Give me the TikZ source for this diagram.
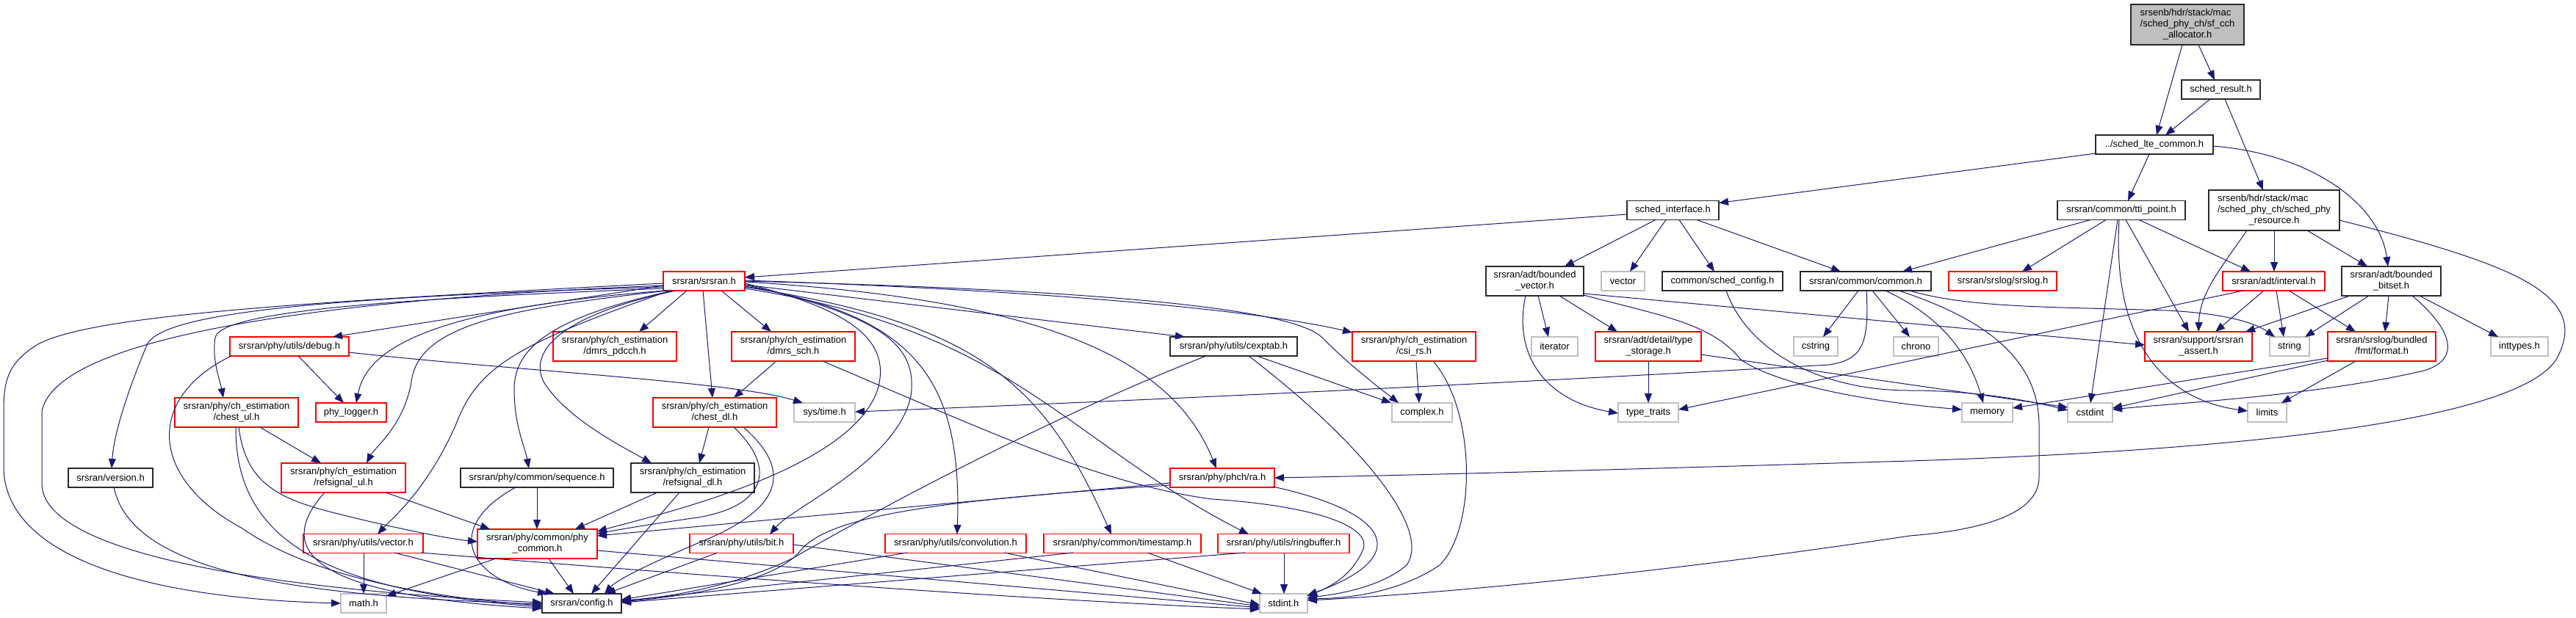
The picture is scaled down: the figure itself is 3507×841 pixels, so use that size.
\documentclass[tikz,border=0pt]{standalone}
\usepackage{fontspec}
\setmainfont{Liberation Sans}
\usetikzlibrary{arrows.meta,calc}
\definecolor{edgec}{HTML}{191970}
\definecolor{boxred}{HTML}{FF0000}
\definecolor{boxgray}{HTML}{BFBFBF}
\definecolor{boxblack}{HTML}{2A2A2A}
\definecolor{rootfill}{HTML}{BFBFBF}
\newcommand{\dfont}{\fontsize{13}{15}\selectfont}
\newcommand{\twolab}[2]{\begin{tabular}{@{}l@{}}#1\\\multicolumn{1}{@{}c@{}}{#2}\end{tabular}}
\newcommand{\threelab}[3]{\begin{tabular}{@{}l@{}}#1\\#2\\\multicolumn{1}{@{}c@{}}{#3}\end{tabular}}
\tikzset{
  nbox/.style={draw, line width=1.15pt, inner sep=0pt, minimum height=26pt, font=\dfont, text=black, fill=white},
  redbox/.style={nbox, draw=boxred},
  blackbox/.style={nbox, draw=boxblack},
  graybox/.style={nbox, draw=boxgray},
  rootbox/.style={nbox, draw=boxblack, fill=rootfill},
  link/.style={draw=edgec, line width=1pt, -{Triangle[length=13pt,width=10pt]}}
}
\begin{document}
\begin{tikzpicture}[x=1pt,y=-1pt]
\useasboundingbox (0,0) rectangle (3507,841);
% ---------- nodes ----------
\node[rootbox, minimum width=154pt, minimum height=55pt] (root) at (2978,33.5) {\threelab{srsenb/hdr/stack/mac}{/sched\_phy\_ch/sf\_cch}{\_allocator.h}};
\node[blackbox, minimum width=107pt] (result) at (3023.5,122) {sched\_result.h};
\node[blackbox, minimum width=160pt] (lte) at (2933,197) {../sched\_lte\_common.h};
\node[blackbox, minimum width=125pt] (iface) at (2277.5,286.5) {sched\_interface.h};
\node[blackbox, minimum width=174pt] (tti) at (2888,286.5) {srsran/common/tti\_point.h};
\node[blackbox, minimum width=178pt, minimum height=55pt] (phyres) at (3096,286.5) {\threelab{srsenb/hdr/stack/mac}{/sched\_phy\_ch/sched\_phy}{\_resource.h}};
\node[redbox, minimum width=111pt] (srsran) at (958.5,383) {srsran/srsran.h};
\node[blackbox, minimum width=133pt, minimum height=40pt] (bvec) at (2089.5,383) {\twolab{srsran/adt/bounded}{\_vector.h}};
\node[graybox, minimum width=59pt] (vec) at (2209.5,383) {vector};
\node[blackbox, minimum width=164pt] (schedcfg) at (2345,383) {common/sched\_config.h};
\node[blackbox, minimum width=178pt] (common) at (2540,383) {srsran/common/common.h};
\node[redbox, minimum width=147pt] (srslog) at (2726.5,383) {srsran/srslog/srslog.h};
\node[redbox, minimum width=139pt] (interval) at (3095.5,383) {srsran/adt/interval.h};
\node[blackbox, minimum width=135pt, minimum height=40pt] (bbitset) at (3255.5,383) {\twolab{srsran/adt/bounded}{\_bitset.h}};
\node[redbox, minimum width=162pt] (debug) at (394,472) {srsran/phy/utils/debug.h};
\node[redbox, minimum width=168pt, minimum height=40pt] (dmrspdcch) at (837,472) {\twolab{srsran/phy/ch\_estimation}{/dmrs\_pdcch.h}};
\node[redbox, minimum width=168pt, minimum height=40pt] (dmrssch) at (1080,472) {\twolab{srsran/phy/ch\_estimation}{/dmrs\_sch.h}};
\node[blackbox, minimum width=173pt] (cexptab) at (1679.5,472) {srsran/phy/utils/cexptab.h};
\node[redbox, minimum width=168pt, minimum height=40pt] (csirs) at (1925,472) {\twolab{srsran/phy/ch\_estimation}{/csi\_rs.h}};
\node[graybox, minimum width=63pt] (iterator) at (2116.5,472) {iterator};
\node[redbox, minimum width=144pt, minimum height=40pt] (tstorage) at (2244,472) {\twolab{srsran/adt/detail/type}{\_storage.h}};
\node[graybox, minimum width=60pt] (cstring) at (2472,472) {cstring};
\node[graybox, minimum width=61pt] (chrono) at (2608.5,472) {chrono};
\node[redbox, minimum width=146pt, minimum height=40pt] (assert) at (2993,472) {\twolab{srsran/support/srsran}{\_assert.h}};
\node[graybox, minimum width=54pt] (string) at (3117,472) {string};
\node[redbox, minimum width=147pt, minimum height=40pt] (format) at (3242.5,472) {\twolab{srsran/srslog/bundled}{/fmt/format.h}};
\node[graybox, minimum width=78pt] (inttypes) at (3430,472) {inttypes.h};
\node[redbox, minimum width=168pt, minimum height=40pt] (chestul) at (322,562) {\twolab{srsran/phy/ch\_estimation}{/chest\_ul.h}};
\node[redbox, minimum width=96pt] (phylogger) at (478,562) {phy\_logger.h};
\node[redbox, minimum width=168pt, minimum height=40pt] (chestdl) at (973,562) {\twolab{srsran/phy/ch\_estimation}{/chest\_dl.h}};
\node[graybox, minimum width=83pt] (systime) at (1122.5,562) {sys/time.h};
\node[graybox, minimum width=82pt] (complex) at (1936,562) {complex.h};
\node[graybox, minimum width=82pt] (ttraits) at (2244,562) {type\_traits};
\node[graybox, minimum width=69pt] (memory) at (2705.5,562) {memory};
\node[graybox, minimum width=61pt] (cstdint) at (2845.5,562) {cstdint};
\node[graybox, minimum width=53pt] (limits) at (3086.5,562) {limits};
\node[blackbox, minimum width=115pt] (version) at (150.5,651) {srsran/version.h};
\node[redbox, minimum width=169pt, minimum height=40pt] (refsigul) at (467.5,651) {\twolab{srsran/phy/ch\_estimation}{/refsignal\_ul.h}};
\node[blackbox, minimum width=208pt] (sequence) at (731,651) {srsran/phy/common/sequence.h};
\node[blackbox, minimum width=168pt, minimum height=40pt] (refsigdl) at (943,651) {\twolab{srsran/phy/ch\_estimation}{/refsignal\_dl.h}};
\node[redbox, minimum width=142pt] (ra) at (1664,651) {srsran/phy/phch/ra.h};
\node[redbox, minimum width=163pt, minimum height=40pt] (phycommon) at (731.5,741) {\twolab{srsran/phy/common/phy}{\_common.h}};
\node[redbox, minimum width=163pt] (vectorh) at (494.5,740.5) {srsran/phy/utils/vector.h};
\node[redbox, minimum width=141pt] (bit) at (1009.5,740.5) {srsran/phy/utils/bit.h};
\node[redbox, minimum width=192pt] (conv) at (1301,740.5) {srsran/phy/utils/convolution.h};
\node[redbox, minimum width=214pt] (tstamp) at (1528,740.5) {srsran/phy/common/timestamp.h};
\node[redbox, minimum width=179pt] (ringbuf) at (1747.5,740.5) {srsran/phy/utils/ringbuffer.h};
\node[graybox, minimum width=62pt] (math) at (495,822) {math.h};
\node[blackbox, minimum width=108pt] (config) at (792,822) {srsran/config.h};
\node[graybox, minimum width=65pt] (stdint) at (1747.5,822) {stdint.h};
% ---------- edges ----------
\draw[link] ($(root)+(-7,27.5)$) -- ($(lte)+(3,-13)$);
\draw[link] ($(root)+(15,27.5)$) -- ($(result)+(-8.5,-13)$);
\draw[link] ($(result)+(-14.5,13)$) -- ($(lte)+(15,-13)$);
\draw[link] ($(result)+(5.5,13)$) -- ($(phyres)+(-15,-27.5)$);
\draw[link] ($(lte)+(-80,12)$) -- ($(iface)+(62.5,-10)$);
\draw[link] ($(lte)+(-7,13)$) -- ($(tti)+(9,-13)$);
\draw[link] ($(lte)+(80,2)$) .. controls (3150,210) and (3240,280) .. ($(bbitset)+(-4.5,-20)$);
\draw[link] ($(iface)+(-62.5,5.5)$) -- ($(srsran)+(55.5,-5)$);
\draw[link] ($(iface)+(-23.5,13)$) -- ($(bvec)+(40.5,-20)$);
\draw[link] ($(iface)+(-9.5,13)$) -- ($(vec)+(9.5,-13)$);
\draw[link] ($(iface)+(8.5,13)$) -- ($(schedcfg)+(-11,-13)$);
\draw[link] ($(iface)+(32.5,13)$) -- ($(common)+(-34,-13)$);
\draw[link] ($(tti)+(-42,13)$) -- ($(common)+(50,-13)$);
\draw[link] ($(tti)+(-21,13)$) -- ($(srslog)+(26.5,-13)$);
\draw[link] ($(tti)+(-5,13)$) -- ($(cstdint)+(0.5,-13)$);
\draw[link] ($(tti)+(-3,13)$) .. controls (2875,470) and (2950,545) .. ($(limits)+(-26.5,-2)$);
\draw[link] ($(tti)+(6,13)$) -- ($(assert)+(-13,-20)$);
\draw[link] ($(tti)+(24,13)$) -- ($(interval)+(-31.5,-13)$);
\draw[link] ($(phyres)+(0,27.5)$) -- ($(interval)+(0.5,-13)$);
\draw[link] ($(phyres)+(45,27.5)$) -- ($(bbitset)+(-32.5,-20)$);
\draw[link] ($(phyres)+(-37,27.5)$) .. controls (3020,370) and (2995,400) .. ($(assert)+(0,-20)$);
\draw[link] ($(phyres)+(89,13.5)$) .. controls (3420,360) and (3530,400) .. (3480,490) .. controls (3420,580) and (3000,615) .. (2600,628) .. controls (2200,640) and (1900,648) .. ($(ra)+(71,0)$);
% srsran.h
\draw[link] ($(srsran)+(-55.5,3)$) .. controls (400,412) and (120,430) .. (50,470) .. controls (10,495) and (5,520) .. (5,560) -- (5,640) .. controls (10,760) and (200,815) .. ($(math)+(-31,0)$);
\draw[link] ($(srsran)+(-55.5,6)$) .. controls (500,405) and (80,450) .. (57,560) -- (57,660) .. controls (60,760) and (400,805) .. ($(config)+(-54,-1)$);
\draw[link] ($(srsran)+(-55.5,8)$) .. controls (450,405) and (220,425) .. (200,470) .. controls (175,530) and (155,590) .. ($(version)+(1.5,-13)$);
\draw[link] ($(srsran)+(-55.5,10)$) .. controls (600,405) and (300,420) .. (293,460) .. controls (288,490) and (300,520) .. ($(chestul)+(-18,-20)$);
\draw[link] ($(srsran)+(-55.5,6)$) -- ($(debug)+(59,-13)$);
\draw[link] ($(srsran)+(-53.5,13)$) .. controls (600,420) and (500,470) .. ($(phylogger)+(7,-13)$);
\draw[link] ($(srsran)+(-50.5,13)$) .. controls (700,420) and (570,440) .. (560,520) .. controls (550,580) and (510,610) .. ($(refsigul)+(31.5,-20)$);
\draw[link] ($(srsran)+(-46.5,13)$) .. controls (700,470) and (650,500) .. (620,580) .. controls (580,670) and (530,710) .. ($(vectorh)+(19.5,-12.5)$);
\draw[link] ($(srsran)+(-42.5,13)$) .. controls (760,430) and (700,470) .. (700,530) .. controls (700,580) and (715,610) .. ($(sequence)+(-11,-13)$);
\draw[link] ($(srsran)+(-38.5,13)$) .. controls (760,430) and (720,480) .. (740,520) .. controls (770,570) and (850,610) .. ($(refsigdl)+(-56,-20)$);
\draw[link] ($(srsran)+(-23.5,13)$) -- ($(dmrspdcch)+(33,-20)$);
\draw[link] ($(srsran)+(-1.5,13)$) -- ($(chestdl)+(-3,-20)$);
\draw[link] ($(srsran)+(23.5,13)$) -- ($(dmrssch)+(-30,-20)$);
\draw[link] ($(srsran)+(55.5,3)$) .. controls (1150,420) and (1215,460) .. (1195,530) .. controls (1160,640) and (900,700) .. ($(phycommon)+(81.5,-17)$);
\draw[link] ($(srsran)+(55.5,5)$) .. controls (1200,430) and (1250,470) .. (1240,540) .. controls (1220,630) and (1080,690) .. ($(bit)+(38.5,-12.5)$);
\draw[link] ($(srsran)+(55.5,7)$) .. controls (1250,430) and (1310,520) .. ($(conv)+(2,-12.5)$);
\draw[link] ($(srsran)+(55.5,8)$) .. controls (1330,440) and (1420,520) .. ($(tstamp)+(-15,-12.5)$);
\draw[link] ($(srsran)+(55.5,10)$) .. controls (1380,450) and (1450,600) .. ($(ringbuf)+(-47.5,-12.5)$);
\draw[link] ($(srsran)+(55.5,1)$) .. controls (1450,410) and (1600,500) .. ($(ra)+(-8,-13)$);
\draw[link] ($(srsran)+(55.5,5)$) -- ($(cexptab)+(-66.5,-13)$);
\draw[link] ($(srsran)+(55.5,-1)$) .. controls (1400,395) and (1700,420) .. ($(csirs)+(-84,-19)$);
\draw[link] ($(srsran)+(55.5,0)$) .. controls (1500,395) and (1760,420) .. (1800,460) .. controls (1840,500) and (1880,530) .. ($(complex)+(-32,-13)$);
% debug, chest ul, refsignal ul, version, sequence
\draw[link] ($(debug)+(12,13)$) -- ($(phylogger)+(-10,-13)$);
\draw[link] ($(debug)+(81,8)$) .. controls (700,505) and (1000,520) .. ($(systime)+(-29.5,-13)$);
\draw[link] ($(debug)+(-79,13)$) .. controls (200,540) and (200,650) .. (330,720) .. controls (430,790) and (600,815) .. ($(config)+(-54,3)$);
\draw[link] ($(chestul)+(32,20)$) -- ($(refsigul)+(-30.5,-20)$);
\draw[link] ($(chestul)+(3,20)$) .. controls (335,660) and (380,680) .. (460,700) .. controls (560,725) and (620,735) .. ($(phycommon)+(-81.5,-3)$);
\draw[link] ($(chestul)+(-1,20)$) .. controls (320,740) and (450,805) .. ($(config)+(-54,5)$);
\draw[link] ($(refsigul)+(57.5,20)$) -- ($(phycommon)+(-64.5,-20)$);
\draw[link] ($(refsigul)+(-25.5,20)$) .. controls (380,740) and (400,810) .. ($(config)+(-54,7)$);
\draw[link] ($(version)+(4.5,13)$) .. controls (180,780) and (400,812) .. ($(config)+(-54,1)$);
\draw[link] ($(sequence)+(0,13)$) -- ($(phycommon)+(-0.5,-20)$);
\draw[link] ($(sequence)+(-29,13)$) .. controls (600,720) and (640,790) .. ($(config)+(-47,-13)$);
% phy_common, vector.h
\draw[link] ($(phycommon)+(-56.5,20)$) -- ($(math)+(31,-10)$);
\draw[link] ($(phycommon)+(15.5,20)$) -- ($(config)+(-11,-13)$);
\draw[link] ($(phycommon)+(81.5,9)$) -- ($(stdint)+(-32.5,6)$);
\draw[link] ($(vectorh)+(0.5,12.5)$) -- ($(math)+(0,-13)$);
\draw[link] ($(vectorh)+(42.5,12.5)$) -- ($(config)+(-37,-13)$);
\draw[link] ($(vectorh)+(78.5,12.5)$) .. controls (900,780) and (1400,818) .. ($(stdint)+(-32.5,8)$);
% refsignal dl, chest dl, dmrs sch
\draw[link] ($(refsigdl)+(-48,20)$) -- ($(phycommon)+(51.5,-20)$);
\draw[link] ($(refsigdl)+(-18,20)$) -- ($(config)+(13,-13)$);
\draw[link] ($(chestdl)+(-8,20)$) -- ($(refsigdl)+(9,-20)$);
\draw[link] ($(chestdl)+(26,20)$) .. controls (1060,640) and (1040,690) .. (950,705) .. controls (880,715) and (840,722) .. ($(phycommon)+(81.5,-14)$);
\draw[link] ($(chestdl)+(39,20)$) .. controls (1090,650) and (1050,700) .. (950,740) .. controls (880,770) and (840,790) .. ($(config)+(31,-13)$);
\draw[link] ($(dmrssch)+(-23,20)$) -- ($(chestdl)+(26,-20)$);
\draw[link] ($(dmrssch)+(40,20)$) .. controls (1350,590) and (1500,660) .. (1650,680) .. controls (1800,690) and (1870,720) .. (1855,750) .. controls (1840,785) and (1810,800) .. ($(stdint)+(32.5,-10)$);
% cexptab, csi_rs, ra
\draw[link] ($(cexptab)+(-37.5,13)$) .. controls (1400,580) and (1150,720) .. (1080,760) .. controls (1000,800) and (900,815) .. ($(config)+(54,-4)$);
\draw[link] ($(cexptab)+(31.5,13)$) -- ($(complex)+(-42,-13)$);
\draw[link] ($(cexptab)+(20.5,13)$) .. controls (1850,600) and (1950,720) .. (1915,770) .. controls (1880,800) and (1820,810) .. ($(stdint)+(32.5,-8)$);
\draw[link] ($(csirs)+(3,20)$) -- ($(complex)+(-4,-13)$);
\draw[link] ($(csirs)+(26,20)$) .. controls (2010,560) and (2010,720) .. (1960,770) .. controls (1900,810) and (1830,815) .. ($(stdint)+(32.5,-6)$);
\draw[link] ($(ra)+(-71,7)$) -- ($(phycommon)+(81.5,-11)$);
\draw[link] ($(ra)+(-71,10)$) .. controls (1300,680) and (1130,700) .. (1090,750) .. controls (1050,800) and (900,815) .. ($(config)+(54,-2)$);
\draw[link] ($(ra)+(69,12)$) .. controls (1900,700) and (1920,760) .. ($(stdint)+(32.5,-11)$);
% bottom row
\draw[link] ($(bit)+(-32.5,12.5)$) -- ($(config)+(33,-13)$);
\draw[link] ($(bit)+(70.5,1.5)$) -- ($(stdint)+(-32.5,4)$);
\draw[link] ($(conv)+(-66,12.5)$) -- ($(config)+(54,-5)$);
\draw[link] ($(conv)+(66,12.5)$) -- ($(stdint)+(-32.5,2)$);
\draw[link] ($(tstamp)+(-67,12.5)$) -- ($(config)+(54,-3)$);
\draw[link] ($(tstamp)+(34,12.5)$) -- ($(stdint)+(-29.5,-13)$);
\draw[link] ($(ringbuf)+(-52.5,12.5)$) -- ($(config)+(54,-1)$);
\draw[link] ($(ringbuf)+(0.5,12.5)$) -- ($(stdint)+(0.5,-13)$);
% bounded_vector, type_storage, sched_config
\draw[link] ($(bvec)+(-12.5,20)$) .. controls (2060,480) and (2100,545) .. ($(ttraits)+(-41,1)$);
\draw[link] ($(bvec)+(4.5,20)$) -- ($(iterator)+(-8.5,-13)$);
\draw[link] ($(bvec)+(33.5,20)$) -- ($(tstorage)+(-42,-20)$);
\draw[link] ($(bvec)+(66.5,19)$) .. controls (2260,430) and (2330,440) .. (2370,490) .. controls (2420,525) and (2550,548) .. ($(memory)+(-34.5,-4)$);
\draw[link] ($(bvec)+(66.5,17)$) -- ($(assert)+(-73,-2)$);
\draw[link] ($(tstorage)+(0,20)$) -- ($(ttraits)+(0,-13)$);
\draw[link] ($(tstorage)+(72,11)$) -- ($(cstdint)+(-30.5,-7)$);
\draw[link] ($(schedcfg)+(5,13)$) .. controls (2380,480) and (2480,532) .. (2600,532) .. controls (2700,532) and (2780,550) .. ($(cstdint)+(-30.5,-3)$);
% common.h
\draw[link] ($(common)+(-10,13)$) -- ($(cstring)+(10,-13)$);
\draw[link] ($(common)+(9,13)$) -- ($(chrono)+(-8.5,-13)$);
\draw[link] ($(common)+(1,13)$) .. controls (2545,470) and (2535,490) .. (2490,497) .. controls (2000,525) and (1500,548) .. ($(systime)+(41.5,-1)$);
\draw[link] ($(common)+(27,13)$) .. controls (2640,430) and (2680,480) .. ($(memory)+(-5.5,-13)$);
\draw[link] ($(common)+(45,13)$) .. controls (2720,440) and (2776,500) .. (2776,580) -- (2776,650) .. controls (2776,700) and (2700,722) .. (2600,730) .. controls (2200,790) and (1900,812) .. ($(stdint)+(32.5,-4)$);
\draw[link] ($(common)+(60,13)$) .. controls (2680,420) and (2800,418) .. (2950,423) .. controls (3030,427) and (3070,440) .. ($(string)+(-20,-13)$);
% interval, bounded_bitset, format
\draw[link] ($(interval)+(-41.5,13)$) -- ($(ttraits)+(41,-4)$);
\draw[link] ($(interval)+(-13.5,13)$) -- ($(assert)+(23,-20)$);
\draw[link] ($(interval)+(3.5,13)$) -- ($(string)+(-8,-13)$);
\draw[link] ($(interval)+(20.5,13)$) -- ($(format)+(-35.5,-20)$);
\draw[link] ($(bbitset)+(-56.5,20)$) -- ($(assert)+(64,-20)$);
\draw[link] ($(bbitset)+(-30.5,20)$) -- ($(string)+(21,-13)$);
\draw[link] ($(bbitset)+(-3.5,20)$) -- ($(format)+(4.5,-20)$);
\draw[link] ($(bbitset)+(28.5,20)$) .. controls (3340,450) and (3350,490) .. (3300,505) .. controls (3150,540) and (2950,550) .. ($(cstdint)+(30.5,-4)$);
\draw[link] ($(bbitset)+(38.5,20)$) -- ($(inttypes)+(-29,-13)$);
\draw[link] ($(format)+(-73.5,16)$) -- ($(memory)+(34.5,-6)$);
\draw[link] ($(format)+(-73.5,19)$) -- ($(cstdint)+(30.5,-6)$);
\draw[link] ($(format)+(-35.5,20)$) -- ($(limits)+(19.5,-13)$);
\end{tikzpicture}
\end{document}
